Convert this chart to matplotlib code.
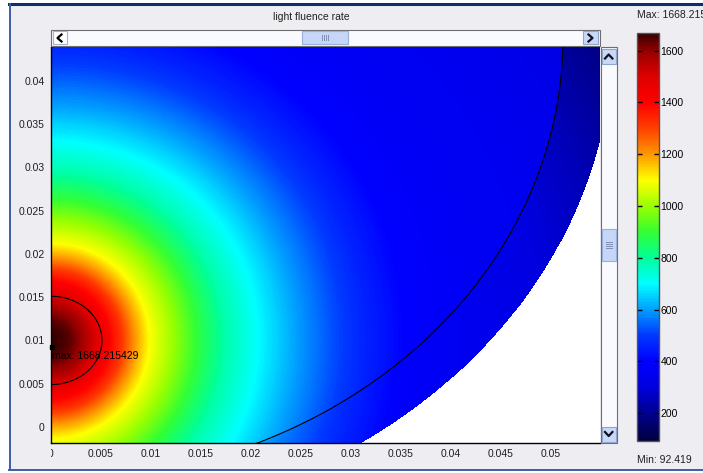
import numpy as np
import matplotlib
matplotlib.use("Agg")
import matplotlib.pyplot as plt
from matplotlib.colors import LinearSegmentedColormap, Normalize
from matplotlib.patches import Rectangle

# ---------------- data ----------------
x_ticks = [0, 0.005, 0.01, 0.015, 0.02, 0.025, 0.03, 0.035, 0.04, 0.045, 0.05]
x_tick_labels = ["0", "0.005", "0.01", "0.015", "0.02", "0.025", "0.03", "0.035", "0.04", "0.045", "0.05"]
y_ticks = [0, 0.005, 0.01, 0.015, 0.02, 0.025, 0.03, 0.035, 0.04]
y_tick_labels = ["0", "0.005", "0.01", "0.015", "0.02", "0.025", "0.03", "0.035", "0.04"]
cbar_ticks = [200, 400, 600, 800, 1000, 1200, 1400, 1600]
cbar_tick_labels = ["200", "400", "600", "800", "1000", "1200", "1400", "1600"]

value_min = 92.419
value_max = 1668.215429
title_text = "light fluence rate"
max_label = "max: 1668.215429"
max_point = (0.0001, 0.0092)

# geometry (axisymmetric domain)
source_center = (0.0, 0.01)
tumor_radius = 0.0051
layer_center = (0.0, 0.045)
layer_radius = 0.0512
domain_radius = 0.0562
y_scale = 0.865          # iso-lines are nearly round in screen space
y_scale_growth = 1.8     # ... and a bit tighter far above the source

# radial profile of fluence rate (distance from source -> value)
inner_profile_d = [0.0, 0.001, 0.002, 0.003, 0.004, 0.005, 0.006, 0.007, 0.0084, 0.0098,
                   0.0122, 0.0151, 0.0175, 0.0207, 0.0246, 0.0281, 0.0316, 0.0352, 0.040,
                   0.050, 0.060, 0.070]
inner_profile_v = [1668, 1660, 1635, 1590, 1530, 1460, 1390, 1320, 1200, 1100,
                   1000, 870, 780, 700, 600, 525, 460, 405, 380,
                   350, 320, 290]
outer_profile_d = [0.020, 0.025, 0.030, 0.035, 0.0443, 0.050, 0.0588, 0.063, 0.070]
outer_profile_v = [690, 570, 475, 395, 335, 295, 225, 190, 150]

# colour scale
cmap_values = [92.419, 200, 300, 400, 500, 600, 700, 800, 900, 1000, 1100, 1200, 1300,
               1400, 1500, 1600, 1668.215429]
cmap_colors = ["#000040", "#000090", "#0000E0", "#0000FF", "#0038FF", "#00A0FF", "#00FFFF",
               "#00FF99", "#33FF33", "#99FF00", "#FFFF00", "#FF9900", "#FF4000",
               "#FF0000", "#E00000", "#960000", "#380000"]

# ---------------- figure ----------------
W, H = 703, 473
FONT = "Liberation Sans"
FS = 7.5
fig = plt.figure(figsize=(W / 100, H / 100), dpi=100, facecolor="white")

def fr(x0, y0, x1, y1):
    """pixel box (top-left origin) -> figure fraction rect"""
    return [x0 / W, (H - y1) / H, (x1 - x0) / W, (y1 - y0) / H]

bg = fig.add_axes([0, 0, 1, 1], zorder=0)
bg.set_xlim(0, W); bg.set_ylim(H, 0); bg.axis("off")
bg.add_patch(Rectangle((9, 4), W, 466, fc="#EEEDF2", ec="none"))

# main axes
ax = fig.add_axes(fr(51, 47, 600, 443), zorder=1)
xlim = (0.0, 0.0549)
ylim = (-0.00185, 0.0439)
ax.set_xlim(*xlim); ax.set_ylim(*ylim)
ax.set_facecolor("white")

pos = [(v - value_min) / (value_max - value_min) for v in cmap_values]
cmap = LinearSegmentedColormap.from_list("comsol_jet", list(zip(pos, cmap_colors)))
cmap.set_bad((1, 1, 1, 0))
norm = Normalize(vmin=value_min, vmax=value_max)

nx, ny = 1100, 800
xs = np.linspace(xlim[0], xlim[1], nx)
ys = np.linspace(ylim[0], ylim[1], ny)
X, Y = np.meshgrid(xs, ys)
dy = Y - source_center[1]
dy_eff = y_scale * dy * (1 + y_scale_growth * np.clip(dy, 0, None))
d = np.sqrt((X - source_center[0]) ** 2 + dy_eff ** 2)
r_layer = np.sqrt((X - layer_center[0]) ** 2 + (Y - layer_center[1]) ** 2)
field = np.where(r_layer < layer_radius,
                 np.interp(d, inner_profile_d, inner_profile_v),
                 np.interp(d, outer_profile_d, outer_profile_v))
field = np.ma.masked_where(r_layer > domain_radius, field)

im = ax.imshow(field, extent=(xlim[0], xlim[1], ylim[0], ylim[1]), origin="lower",
               aspect="auto", cmap=cmap, norm=norm, interpolation="nearest")

# subdomain boundaries
t = np.linspace(-np.pi / 2, np.pi / 2, 300)
ax.plot(source_center[0] + tumor_radius * np.cos(t),
        source_center[1] + tumor_radius * np.sin(t), color="black", lw=0.8)
t2 = np.linspace(-np.pi / 2, 0, 400)
ax.plot(layer_center[0] + layer_radius * np.cos(t2),
        layer_center[1] + layer_radius * np.sin(t2), color="black", lw=0.8)

# max marker
ax.plot([max_point[0]], [max_point[1]], marker="s", ms=2.2, color="black", clip_on=False)
ax.text(max_point[0], max_point[1] - 0.0010, max_label, fontsize=FS, family=FONT,
        color="black", va="center", ha="left")

ax.set_xticks(x_ticks); ax.set_xticklabels(x_tick_labels)
ax.set_yticks(y_ticks); ax.set_yticklabels(y_tick_labels)
ax.tick_params(length=0, labelsize=FS, colors="#202020")
ax.tick_params(axis="x", pad=4)
ax.tick_params(axis="y", pad=4.5)
for lbl in ax.get_xticklabels() + ax.get_yticklabels():
    lbl.set_family(FONT)
for s in ["top", "right"]:
    ax.spines[s].set_visible(False)
for s in ["left", "bottom"]:
    ax.spines[s].set_color("black"); ax.spines[s].set_linewidth(1.0)

# colour bar
cax = fig.add_axes(fr(637, 33, 659, 441), zorder=1)
cb = fig.colorbar(im, cax=cax, ticks=cbar_ticks)
cb.ax.set_yticklabels(cbar_tick_labels)
cb.outline.set_edgecolor("#555555"); cb.outline.set_linewidth(1.0)
cax.yaxis.set_ticks_position("both")
cax.tick_params(direction="in", length=3.5, width=1, color="black", labelsize=FS,
                pad=1, labelleft=False, labelright=True)
for lbl in cax.get_yticklabels():
    lbl.set_family(FONT)

# texts
fig.text(311 / W, 1 - 17 / H, title_text, fontsize=FS, family=FONT, ha="center", va="center",
         color="#202020")
fig.text(637 / W, 1 - 15 / H, "Max: 1668.215", fontsize=FS, family=FONT, ha="left",
         va="center", color="#202020")
fig.text(637 / W, 1 - 460 / H, "Min: 92.419", fontsize=FS, family=FONT, ha="left",
         va="center", color="#202020")

# window chrome (scrollbars, frame)
ov = fig.add_axes([0, 0, 1, 1], zorder=5)
ov.set_xlim(0, W); ov.set_ylim(H, 0); ov.axis("off")
ov.patch.set_visible(False)
# hide left half of the x "0" label (clipped in the original)
ov.add_patch(Rectangle((30, 444), 20.5, 16, fc="#EEEDF2", ec="none"))
# horizontal scrollbar
ov.add_patch(Rectangle((51, 30), 549, 16, fc="#F8FAFE", ec="#6E6E6E", lw=0.8))
ov.add_patch(Rectangle((52.5, 31.5), 14, 13, fc="#FFFFFF", ec="#9FB2DA", lw=0.8))
ov.plot([61.5, 57.5, 61.5], [34.5, 38, 41.5], color="black", lw=1.6)
ov.add_patch(Rectangle((583, 31.5), 15, 13, fc="#C9D8F5", ec="#8FA4CF", lw=0.8))
ov.plot([588.5, 592.5, 588.5], [34.5, 38, 41.5], color="#101020", lw=1.6)
ov.add_patch(Rectangle((302, 31.5), 46, 13, fc="#C6D6F6", ec="#9AB0DE", lw=0.8))
for gx in [322, 324, 326, 328]:
    ov.plot([gx, gx], [35.5, 40.5], color="#8090B8", lw=0.7)
# vertical scrollbar
ov.add_patch(Rectangle((600.5, 47), 16, 396, fc="#F8FAFE", ec="#6E6E6E", lw=0.8))
ov.add_patch(Rectangle((602, 49), 13.5, 15, fc="#C9D8F5", ec="#8FA4CF", lw=0.8))
ov.plot([605, 608.7, 612.4], [58.5, 54.5, 58.5], color="#101020", lw=1.6)
ov.add_patch(Rectangle((602, 426.5), 13.5, 15, fc="#C9D8F5", ec="#8FA4CF", lw=0.8))
ov.plot([605, 608.7, 612.4], [432, 436, 432], color="#101020", lw=1.6)
ov.add_patch(Rectangle((602, 229), 13.5, 32, fc="#C6D6F6", ec="#9AB0DE", lw=0.8))
for gy in [242, 244, 246, 248]:
    ov.plot([605.5, 612], [gy, gy], color="#8090B8", lw=0.7)
# window frame
ov.plot([9, W], [4.5, 4.5], color="#0F2D6E", lw=2.2)
ov.plot([9.5, 9.5], [4, 470], color="#3A5FA5", lw=1.4)
ov.plot([9, W], [470, 470], color="#3A5FA5", lw=1.4)

fig.savefig("out.png", dpi=100, facecolor=fig.get_facecolor())
